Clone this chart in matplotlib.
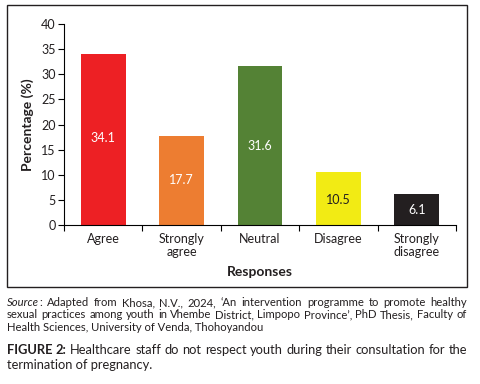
import matplotlib.pyplot as plt
from matplotlib.patches import Rectangle

categories = ['Agree', 'Strongly\nagree', 'Neutral', 'Disagree', 'Strongly\ndisagree']
values = [34.1, 17.7, 31.6, 10.5, 6.1]
colors = ['#ED2024', '#ED7D31', '#548235', '#F2EB14', '#231F20']
label_colors = ['white', 'white', 'white', '#231F20', 'white']
label_pos = [17.3, 9.0, 15.8, 5.0, 3.0]
yticks = [0, 5, 10, 15, 20, 25, 30, 35, 40]

src = [
    "Adapted from Khosa, N.V., 2024, \u2018An intervention programme to promote healthy",
    "sexual practices among youth in Vhembe District, Limpopo Province\u2019, PhD Thesis, Faculty of",
    "Health Sciences, University of Venda, Thohoyandou",
]
caption = ['Healthcare staff do not respect youth during their consultation for the',
           'termination of pregnancy.']

plt.rcParams['font.family'] = ['Lato', 'DejaVu Sans']
txt = '#231F20'
W, H = 481, 384

fig = plt.figure(figsize=(4.81, 3.84), dpi=100)
ax = fig.add_axes([0.133, 0.414, 0.815, 0.5235])

x = range(len(categories))
ax.bar(x, values, width=0.57, color=colors)
for i, v in enumerate(values):
    ax.text(i, label_pos[i], f'{v}', ha='center', va='center',
            color=label_colors[i], fontsize=9)

ax.set_xlim(-0.5, 4.5)
ax.set_ylim(0, 40)
ax.set_yticks(yticks)
ax.set_xticks(list(x))
ax.set_xticklabels(categories, fontsize=9, color=txt, linespacing=1.05)
ax.set_xticks([i - 0.5 for i in range(len(categories) + 1)], minor=True)
ax.tick_params(axis='x', which='major', length=0, pad=6)
ax.tick_params(axis='x', which='minor', length=4, direction='out', width=0.8)
ax.tick_params(axis='y', length=4, width=0.8, labelsize=9, labelcolor=txt, pad=2)
ax.spines['top'].set_visible(False)
ax.spines['right'].set_visible(False)
ax.spines['left'].set_linewidth(0.8)
ax.spines['bottom'].set_linewidth(0.8)
ax.set_ylabel('Percentage (%)', fontsize=10, fontweight='bold', color=txt, labelpad=5)
ax.set_xlabel('Responses', fontsize=10, fontweight='bold', color=txt, labelpad=6)

# frame round the chart
fig.patches.append(Rectangle((7 / W, 1 - 287 / H), 460 / W, 282 / H, transform=fig.transFigure,
                             fill=False, edgecolor='#231F20', linewidth=1.0))

# --- source note: size fitted on the real drawn last line ---
fs = 8.0
t3 = fig.text(7 / W, 1 - 331 / H, src[2], va='baseline', fontsize=fs, color=txt)
for _ in range(3):
    fig.canvas.draw()
    w = t3.get_window_extent().width
    fs = fs * 256 / w
    t3.set_fontsize(fs)


def make_line(pieces, y):
    # pieces: list of words, each word a list of (text, style); placed later
    arts = []
    for word in pieces:
        arts.append([fig.text(0, 1 - y / H, s, va='baseline', **kw) for s, kw in word])
    return arts


def place(arts, x0=7, x1=467):
    widths = [[a.get_window_extent().width for a in word] for word in arts]
    total = sum(sum(ws) for ws in widths)
    gap = (x1 - x0 - total) / (len(arts) - 1)
    xp = x0
    for word, ws in zip(arts, widths):
        xx = xp
        for a, wd in zip(word, ws):
            a.set_x(xx / W)
            xx += wd
        xp = xx + gap


sf = dict(fontsize=fs, color=txt)
si = dict(sf, style='italic')
line1 = make_line([[('Source', si), (':', sf)]] + [[(w, sf)] for w in src[0].split()], 306)
line2 = make_line([[(w, sf)] for w in src[1].split()], 318.5)

cf = dict(fontsize=9.3, color=txt)
cb = dict(cf, fontweight='bold')
cap1 = make_line([[('FIGURE', cb)], [('2:', cb)]] + [[(w, cf)] for w in caption[0].split()], 354)
fig.text(7 / W, 1 - 369 / H, caption[1], va='baseline', **cf)

fig.canvas.draw()
for line in (line1, line2, cap1):
    place(line)

fig.savefig('out.png', dpi=100)
